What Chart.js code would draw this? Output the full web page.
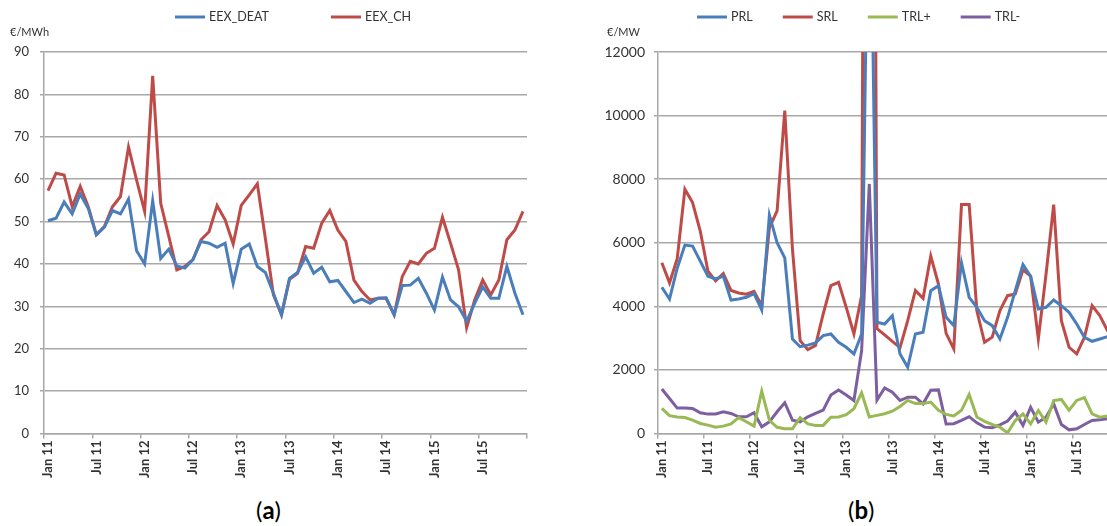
<!DOCTYPE html>
<html>
<head>
<meta charset="utf-8">
<script src="https://cdn.jsdelivr.net/npm/chart.js@4.4.1/dist/chart.umd.min.js"></script>
<style>
html,body{margin:0;padding:0;background:#fff;overflow:hidden;width:1107px;height:526px;}
.box{position:absolute;top:0;height:480px;}
#wa{left:0;width:545px;}
#wb{left:560px;width:575px;}
.cap{position:absolute;top:496px;font:24px Lato,"Liberation Sans",sans-serif;color:#000;line-height:28px;}
</style>
</head>
<body>
<div class="box" id="wa"><canvas id="chart-a" width="545" height="480"></canvas></div>
<div class="box" id="wb"><canvas id="chart-b" width="575" height="480"></canvas></div>
<div class="cap" style="left:256px">(<b>a</b>)</div>
<div class="cap" style="left:848px">(<b>b</b>)</div>
<script>
// month labels Jan 11 .. Dec 15
const MONTHS = ['Jan','Feb','Mar','Apr','May','Jun','Jul','Aug','Sep','Oct','Nov','Dec'];
const YEARS = ['11','12','13','14','15'];
const labels = YEARS.flatMap(y => MONTHS.map(m => m + ' ' + y));

// (a) spot prices, EUR/MWh
const eexDeat = [50.2,50.8,54.6,51.8,56.5,53.1,46.9,48.7,52.6,51.8,55.3,43.1,40.0,54.9,41.3,43.5,39.5,39.0,41.0,45.3,
  44.9,43.9,44.9,35.4,43.5,44.7,39.4,38.0,33.1,28.0,36.6,38.0,41.7,37.8,39.2,35.8,36.1,33.5,30.9,31.7,
  30.7,31.9,32.0,28.0,34.9,35.0,36.6,33.1,29.1,36.9,31.5,29.9,26.5,30.7,34.6,31.9,31.9,39.4,33.1,28.0];
const eexCh = [57.3,61.4,61.0,53.5,58.3,53.5,46.9,48.8,53.5,55.9,67.6,59.8,52.4,84.4,54.3,46.5,38.6,39.4,41.0,45.7,
  47.6,53.8,50.4,44.7,53.8,56.3,58.9,46.0,32.7,28.0,36.4,37.8,44.1,43.7,49.6,52.6,48.0,45.3,36.2,33.5,
  31.5,31.9,31.9,28.0,37.0,40.6,40.0,42.5,43.7,51.0,44.9,38.6,25.0,31.5,36.2,32.7,36.2,45.7,48.0,52.4];

// (b) reserve prices, EUR/MW
const prl = [4600,4230,5200,5926,5895,5421,4947,4860,4950,4199,4230,4283,4400,3885,6874,6000,5526,2974,2730,2780,
  2850,3079,3131,2869,2712,2503,3131,20000,3500,3445,3707,2503,2084,3131,3183,4492,4649,3655,3393,5369,
  4283,3969,3550,3393,2974,3655,4492,5316,4947,3916,3969,4199,4020,3812,3445,3026,2900,2974,3047,3100];
const srl = [5369,4737,5500,7684,7263,6368,5105,4800,5030,4500,4420,4380,4470,4020,6474,7000,10158,5800,2922,2639,
  2765,3759,4649,4754,3969,3131,4335,60000,3300,3100,2900,2700,3550,4500,4250,5580,4700,3150,2660,7200,
  7200,3860,2870,3030,3864,4335,4387,5150,4950,2974,5000,7200,3550,2712,2503,3026,4020,3707,3236,2900];
const trlPlus = [790,560,520,500,420,316,263,195,232,300,500,370,232,1330,415,195,150,150,500,300,
  255,255,510,520,590,780,1280,520,570,620,700,850,1040,940,940,990,730,600,550,730,
  1230,520,380,283,199,20,408,618,304,723,356,1037,1070,730,1040,1130,618,513,550,540];
const trlMinus = [1400,1100,800,800,790,650,610,615,680,630,526,526,653,210,368,684,969,421,368,526,
  632,737,1211,1369,1211,1037,2600,7850,1053,1430,1300,1037,1142,1142,933,1360,1372,300,310,415,
  530,335,200,180,270,390,670,252,827,356,513,932,283,115,147,283,408,429,461,480];

const BLUE='#4a7ebb', RED='#be4b48', GREEN='#98b954', PURPLE='#7d5fa0';
const GRID='#a8a8a8', TXT='#333', FONT='Lato, "Liberation Sans", sans-serif';

const legendLine = {
  id: 'legendLine',
  afterDraw(chart, args, o) {
    const ctx = chart.ctx;
    ctx.save();
    ctx.font = o.size + 'px ' + FONT;
    ctx.textBaseline = 'middle';
    ctx.textAlign = 'left';
    let x = o.x;
    chart.data.datasets.forEach(ds => {
      ctx.strokeStyle = ds.borderColor; ctx.lineWidth = 3;
      ctx.beginPath(); ctx.moveTo(x, o.y); ctx.lineTo(x + 30, o.y); ctx.stroke();
      ctx.fillStyle = TXT;
      ctx.fillText(ds.label, x + 34, o.y);
      x += 34 + ctx.measureText(ds.label).width + o.gap;
    });
    ctx.font = o.unitSize + 'px ' + FONT;
    ctx.fillText(o.unit, o.unitX, o.unitY);
    ctx.restore();
  }
};

function line(label, data, color){
  return {label, data, borderColor:color, backgroundColor:color, borderWidth:3, pointRadius:0, tension:0, fill:false};
}

function makeChart(id, datasets, ymax, step, yw, xsize, ysize, ypad, pad, legend){
  const tickOn = c => c.index === undefined || c.index % 6 === 0;
  return new Chart(document.getElementById(id), {
    type:'line',
    data:{labels, datasets},
    plugins:[legendLine],
    options:{
      responsive:false, animation:false,
      layout:{padding:pad},
      plugins:{legend:{display:false}, tooltip:{enabled:false}, legendLine:legend},
      scales:{
        x:{
          offset:true,
          grid:{offset:true, drawOnChartArea:false, tickLength:5, lineWidth:1.5, color:c => tickOn(c) ? GRID : 'rgba(0,0,0,0)'},
          border:{display:true, color:GRID, width:1.5},
          ticks:{autoSkip:false, minRotation:90, maxRotation:90, padding:2, color:TXT,
            font:{family:FONT, size:xsize, weight:'bold'},
            callback:(v, i) => i % 6 === 0 ? labels[i] : ''},
          afterFit:s => { s.height = 46.5; }
        },
        y:{
          min:0, max:ymax,
          ticks:{stepSize:step, color:TXT, padding:ypad, font:{family:FONT, size:ysize},
            callback:v => String(v)},
          grid:{color:GRID, lineWidth:1.5, tickLength:4},
          border:{display:true, color:GRID, width:1.5},
          afterFit:s => { s.width = yw; }
        }
      }
    }
  });
}

makeChart('chart-a',
  [line('EEX_DEAT', eexDeat, BLUE), line('EEX_CH', eexCh, RED)],
  90, 10, 44, 13, 13, 11, {top:52, right:18, left:0, bottom:0},
  {x:175, y:17, size:12.5, gap:62, unit:'€/MWh', unitX:10, unitY:32, unitSize:11});

makeChart('chart-b',
  [line('PRL', prl, BLUE), line('SRL', srl, RED), line('TRL+', trlPlus, GREEN), line('TRL-', trlMinus, PURPLE)],
  12000, 2000, 98, 13, 14, 9, {top:52, right:16, left:0, bottom:0},
  {x:137, y:17, size:12.5, gap:30, unit:'€/MW', unitX:47, unitY:32, unitSize:11});
</script>
</body>
</html>
